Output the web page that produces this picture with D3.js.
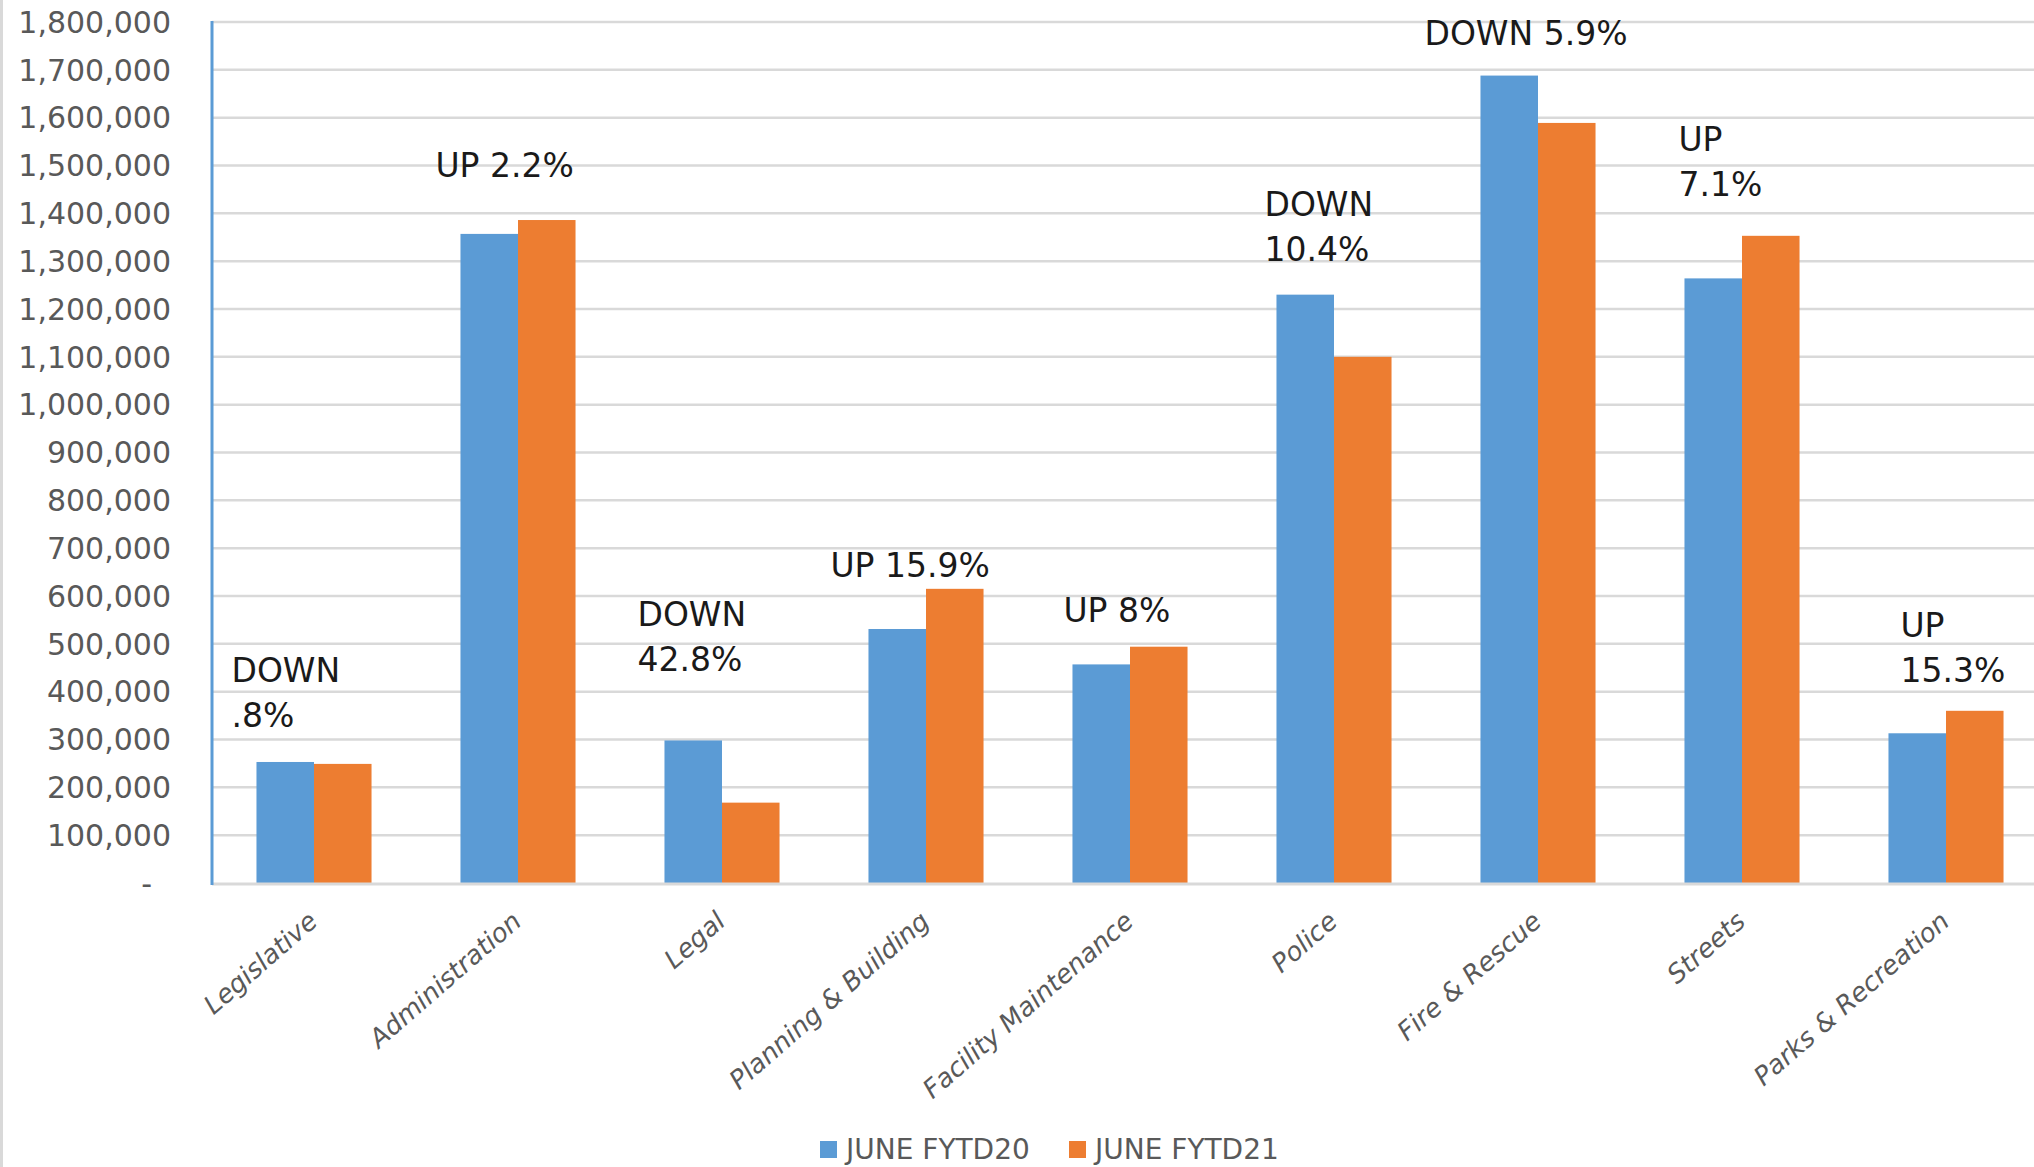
<!DOCTYPE html>
<html lang="en">
<head>
    <meta charset="UTF-8">
    <title>June FYTD by Department</title>
    <script src="https://d3js.org/d3.v7.min.js"></script>
    <style>
        body, html {
            margin: 0;
            padding: 0;
            overflow: hidden;
            background: #fff;
        }
        svg {
            display: block;
        }
        .tick-label {
            font: 30px "DejaVu Sans", sans-serif;
            fill: #595959;
        }
        .cat-label {
            font: italic 26px "DejaVu Sans", sans-serif;
            fill: #595959;
        }
        .note {
            font: 33px "DejaVu Sans", sans-serif;
            fill: #1a1a1a;
        }
        .legend-text {
            font: 28px "DejaVu Sans", sans-serif;
            fill: #595959;
        }
    </style>
</head>
<body>
<svg></svg>

<script>
    // data
    const categories = ['Legislative', 'Administration', 'Legal', 'Planning & Building',
        'Facility Maintenance', 'Police', 'Fire & Rescue', 'Streets', 'Parks & Recreation'];
    const fytd20 = [253000, 1357000, 298000, 531000, 457000, 1230000, 1688000, 1264000, 313000];
    const fytd21 = [249000, 1386000, 168000, 615000, 494000, 1100000, 1589000, 1353000, 360000];
    const seriesNames = ['JUNE FYTD20', 'JUNE FYTD21'];
    const changeNotes = ['DOWN\n.8%', 'UP 2.2%', 'DOWN\n42.8%', 'UP 15.9%', 'UP 8%',
        'DOWN\n10.4%', 'DOWN 5.9%', 'UP\n7.1%', 'UP\n15.3%'];
    const yTicks = d3.range(0, 1800001, 100000);

    // where each hand-placed note sits: x offset from the group, first baseline in axis units
    const notePlace = [
        { dx: -25, at: 420000 }, { dx: -25, at: 1475000 }, { dx: -27, at: 538000 },
        { dx: -38, at: 640000 }, { dx: -9, at: 546000 }, { dx: -12, at: 1395000 },
        { dx: -56, at: 1751000 }, { dx: -6, at: 1531000 }, { dx: 12, at: 515000 }
    ];

    const width = 2034, height = 1167;
    const colors = ['#5b9bd5', '#ed7d31'];

    const svg = d3.select('svg').attr('width', width).attr('height', height);

    const x = d3.scaleBand()
        .domain(categories)
        .range([212, 2048])
        .paddingInner(0.436)
        .paddingOuter(0.218);

    const xs = d3.scaleBand()
        .domain([0, 1])
        .range([0, x.bandwidth()]);

    const y = d3.scaleLinear()
        .domain([0, 1800000])
        .range([883, 22]);

    // chart frame edge on the left
    svg.append('line')
        .attr('x1', 1.5).attr('x2', 1.5)
        .attr('y1', 0).attr('y2', height)
        .attr('stroke', '#d9d9d9')
        .attr('stroke-width', 3);

    // gridlines
    svg.append('g')
        .selectAll('line')
        .data(yTicks.filter(d => d > 0))
        .enter().append('line')
        .attr('x1', 212).attr('x2', width)
        .attr('y1', d => y(d)).attr('y2', d => y(d))
        .attr('stroke', '#d9d9d9')
        .attr('stroke-width', 2.5);

    // y axis labels
    const fmt = d3.format(',');
    svg.append('g')
        .selectAll('text')
        .data(yTicks)
        .enter().append('text')
        .attr('class', 'tick-label')
        .attr('x', d => d === 0 ? 152 : 171)
        .attr('y', d => y(d))
        .attr('dy', '0.36em')
        .attr('text-anchor', 'end')
        .text(d => d === 0 ? '-' : fmt(d));

    // bars
    const group = svg.append('g')
        .selectAll('g')
        .data(categories.map((c, i) => ({ cat: c, vals: [fytd20[i], fytd21[i]] })))
        .enter().append('g')
        .attr('transform', d => `translate(${x(d.cat)},0)`);

    group.selectAll('rect')
        .data(d => d.vals)
        .enter().append('rect')
        .attr('x', (d, i) => xs(i))
        .attr('width', xs.bandwidth())
        .attr('y', d => y(d))
        .attr('height', d => y(0) - y(d))
        .attr('fill', (d, i) => colors[i]);

    // baseline
    svg.append('line')
        .attr('x1', 212).attr('x2', width)
        .attr('y1', y(0) + 1).attr('y2', y(0) + 1)
        .attr('stroke', '#d9d9d9')
        .attr('stroke-width', 3);

    // y axis line
    svg.append('line')
        .attr('x1', 212).attr('x2', 212)
        .attr('y1', y(1800000) - 1).attr('y2', y(0) + 2)
        .attr('stroke', '#5b9bd5')
        .attr('stroke-width', 3);

    // category labels
    svg.append('g')
        .selectAll('text')
        .data(categories)
        .enter().append('text')
        .attr('class', 'cat-label')
        .attr('text-anchor', 'end')
        .attr('transform', d => `translate(${x(d) + x.bandwidth() / 2 - 1},${y(0) + 34}) rotate(-41)`)
        .attr('dy', '0.35em')
        .text(d => d);

    // change notes
    const notes = svg.append('g')
        .selectAll('text')
        .data(changeNotes)
        .enter().append('text')
        .attr('class', 'note')
        .attr('x', (d, i) => x(categories[i]) + notePlace[i].dx)
        .attr('y', (d, i) => y(notePlace[i].at));

    notes.selectAll('tspan')
        .data(d => d.split('\n'))
        .enter().append('tspan')
        .attr('x', function() { return this.parentNode.getAttribute('x'); })
        .attr('dy', (d, i) => i === 0 ? 0 : 45)
        .text(d => d);

    // legend
    const legendX = [820, 1069];
    const legend = svg.append('g')
        .selectAll('g')
        .data(seriesNames)
        .enter().append('g')
        .attr('transform', (d, i) => `translate(${legendX[i]},1149)`);

    legend.append('rect')
        .attr('x', 0).attr('y', -8)
        .attr('width', 17).attr('height', 17)
        .attr('fill', (d, i) => colors[i]);

    legend.append('text')
        .attr('class', 'legend-text')
        .attr('x', 26)
        .attr('dy', '0.36em')
        .text(d => d);
</script>
</body>
</html>
